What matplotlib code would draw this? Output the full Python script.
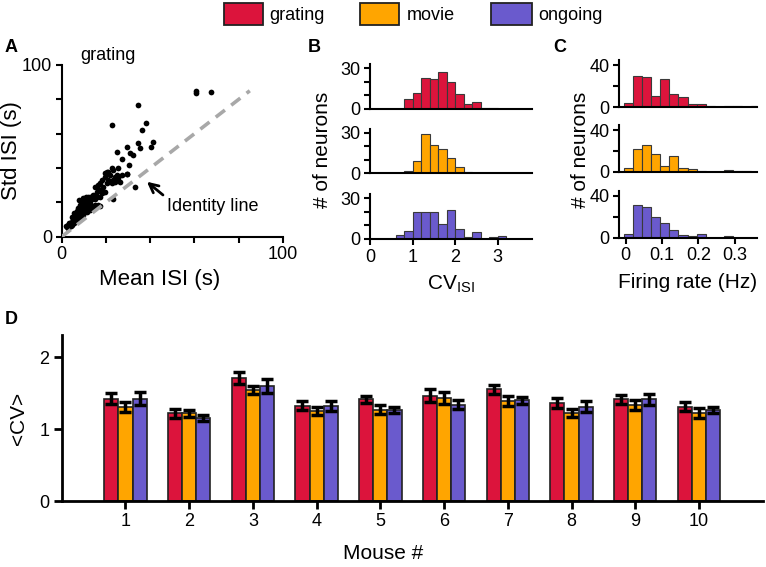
import matplotlib
matplotlib.use("Agg")
import matplotlib.pyplot as plt
from matplotlib.patches import Rectangle
import numpy as np

plt.rcParams['font.family'] = ['Liberation Sans', 'DejaVu Sans']

# ---------------- data ----------------
conditions = ['grating', 'movie', 'ongoing']
colors = ['#DC143C', '#FFA500', '#6A5ACD']

# Panel A: mean vs std ISI (grating)
mean_isi = [3.0, 3.8, 4.5, 5.3, 6.0, 6.8, 5.0, 7.5, 8.3, 9.0, 8.3, 8.0, 9.8, 10.5, 11.3,
            12.0, 12.8, 13.5, 15.0, 16.5, 17.3, 14.3, 15.8, 15.0, 16.5, 17.3, 18.8, 19.5,
            18.0, 19.5, 20.3, 21.1, 22.6, 23.3, 21.8, 24.1, 24.8, 25.6, 23.3, 26.3, 24.1,
            22.6, 27.1, 23.3, 33.1, 29.6, 25.6, 30.5, 27.1, 30.8, 32.0, 24.8, 29.6, 35.6,
            40.2, 34.6, 41.1, 36.1, 37.9, 22.6, 34.6, 60.6, 60.9, 67.4,
            2.3, 2.0, 3.5, 4.1, 5.6, 6.5, 5.6, 6.8, 7.5, 9.0, 9.8, 10.5, 11.3, 9.5, 9.0,
            11.0, 12.0, 12.8, 13.5, 15.0, 16.1, 17.3, 18.0, 17.3, 15.8, 18.8, 20.3, 21.1,
            6.8, 4.5, 14.3, 12.0, 12.8, 11.3, 9.8, 8.3, 7.5, 4.5, 3.0, 19.6, 20.3, 29.4]
std_isi = [6.8, 7.8, 8.7, 9.7, 11.7, 12.6, 10.7, 13.6, 14.6, 16.5, 18.4, 21.4, 22.3, 19.4,
           21.4, 23.3, 19.4, 17.5, 18.4, 18.4, 18.1, 24.3, 26.2, 29.1, 30.1, 31.1, 26.2,
           26.2, 33.0, 35.0, 36.9, 37.9, 39.8, 38.8, 35.9, 35.0, 35.9, 34.0, 33.0, 32.0,
           32.0, 31.1, 35.9, 21.7, 28.7, 36.5, 39.8, 41.7, 45.0, 48.5, 47.6, 49.5, 52.0,
           51.5, 52.0, 54.4, 55.3, 62.1, 66.0, 65.0, 76.7, 85.0, 83.5, 84.0,
           5.8, 6.4, 8.2, 6.4, 8.2, 9.7, 13.6, 15.1, 16.5, 13.6, 15.5, 16.5, 17.5, 18.4,
           20.4, 23.3, 20.4, 23.3, 21.7, 21.7, 23.3, 23.3, 25.2, 27.2, 29.1, 29.1, 31.1,
           33.0, 11.7, 11.7, 17.5, 17.5, 15.5, 14.6, 12.6, 11.7, 9.7, 6.8, 4.9, 36.9,
           37.9, 36.5]
identity_range = [0, 85]

# Panel B: CV_ISI histograms
cv_bin_edges = [0.6, 0.8, 1.0, 1.2, 1.4, 1.6, 1.8, 2.0, 2.2, 2.4, 2.6, 2.8, 3.0, 3.2]
cv_counts_grating = [0, 7, 12, 23, 22, 27, 20, 11, 4, 5, 1, 1, 0]
cv_counts_movie = [0, 2, 9, 29, 21, 18, 11, 5, 1, 0, 0, 0, 0]
cv_counts_ongoing = [3, 6, 20, 20, 20, 11, 21, 7, 1, 5, 0, 1, 2]

# Panel C: firing rate histograms
fr_bin_edges = [-0.005, 0.02, 0.045, 0.07, 0.095, 0.12, 0.145, 0.17, 0.195, 0.22,
                0.245, 0.27, 0.295, 0.32, 0.345, 0.37]
fr_counts_grating = [4, 30, 29, 11, 27, 12, 10, 3, 3, 1, 0, 1, 1, 0, 1]
fr_counts_movie = [4, 22, 26, 17, 6, 15, 4, 3, 1, 0, 0, 2, 1, 1, 0]
fr_counts_ongoing = [3, 31, 29, 20, 14, 7, 2, 1, 3, 0, 0, 1, 0, 0, 0]

# Panel D: mean CV per mouse
mice = [1, 2, 3, 4, 5, 6, 7, 8, 9, 10]
cv_grating = [1.42, 1.22, 1.71, 1.32, 1.41, 1.465, 1.55, 1.36, 1.41, 1.31]
cv_grating_err = [0.077, 0.063, 0.08, 0.063, 0.053, 0.088, 0.063, 0.065, 0.06, 0.063]
cv_movie = [1.30, 1.22, 1.54, 1.25, 1.27, 1.43, 1.39, 1.22, 1.33, 1.22]
cv_movie_err = [0.07, 0.05, 0.053, 0.05, 0.063, 0.08, 0.07, 0.056, 0.07, 0.07]
cv_ongoing = [1.42, 1.15, 1.60, 1.32, 1.27, 1.34, 1.40, 1.31, 1.41, 1.26]
cv_ongoing_err = [0.088, 0.04, 0.1, 0.065, 0.042, 0.056, 0.047, 0.072, 0.07, 0.04]

# ---------------- figure ----------------
W, H = 766, 567
fig = plt.figure(figsize=(W / 100, H / 100), dpi=100)


def box(l, t, r, b):
    return [l / W, 1 - b / H, (r - l) / W, (b - t) / H]


def style(ax, lw=1.5):
    for s in ['top', 'right']:
        ax.spines[s].set_visible(False)
    for s in ['left', 'bottom']:
        ax.spines[s].set_linewidth(lw)
    ax.tick_params(direction='out', width=lw, length=4, labelsize=13, pad=3)


LAB = 15

# ---- Panel A ----
axA = fig.add_axes(box(61.7, 65, 283, 236.7))
style(axA)
axA.scatter(mean_isi, std_isi, s=17, color='black', linewidths=0, zorder=2)
axA.plot(identity_range, identity_range, ls=(0, (3.2, 2.2)), color='#a8a8a8', lw=2.6, zorder=3)
axA.set_xlim(0, 100)
axA.set_ylim(0, 100)
axA.set_xticks([0, 100])
axA.set_yticks([0, 100])
axA.set_xticks([20, 40, 60, 80], minor=True)
axA.set_yticks([20, 40, 60, 80], minor=True)
axA.tick_params(which='minor', direction='out', width=1.5, length=4)
axA.set_xlabel('Mean ISI (s)', fontsize=16, labelpad=4)
axA.xaxis.set_label_coords((160 - 61.7) / (283 - 61.7), -0.19)
axA.set_ylabel('Std ISI (s)', fontsize=16, labelpad=0)
axA.annotate('Identity line', xy=(38.5, 32), xytext=(47.5, 17.5), fontsize=13,
             va='center', ha='left',
             arrowprops=dict(arrowstyle='->', lw=2, color='black', mutation_scale=16,
                             relpos=(0, 1), shrinkA=1, shrinkB=0))
fig.text(80 / W, 1 - 55 / H, 'grating', fontsize=13, va='center', ha='left')


# ---- Panel B ----
def hist_panel(ax, edges, counts, color, xlim, ylim, yt, yminor, xt=None, xtl=None):
    style(ax)
    edges = np.asarray(edges)
    ax.bar(edges[:-1], counts, width=np.diff(edges), align='edge', color=color,
           edgecolor='#3a3a3a', linewidth=0.8)
    ax.set_xlim(*xlim)
    ax.set_ylim(*ylim)
    ax.set_yticks(yt)
    ax.set_yticks(yminor, minor=True)
    ax.tick_params(which='minor', direction='out', width=1.5, length=4)
    if xt is None:
        ax.set_xticks([])
    else:
        ax.set_xticks(xt)
        ax.set_xticklabels(xtl)


b_rows = [(64.2, 109), (128.5, 173.3), (194, 238.8)]
b_counts = [cv_counts_grating, cv_counts_movie, cv_counts_ongoing]
axesB = []
for i, ((t, b), c) in enumerate(zip(b_rows, b_counts)):
    ax = fig.add_axes(box(370, t, 531.7, b))
    last = i == 2
    hist_panel(ax, cv_bin_edges, c, colors[i], (0, 3.8), (0, 33), [0, 30], [10, 20],
               xt=[0, 1, 2, 3] if last else None, xtl=['0', '1', '2', '3'] if last else None)
    axesB.append(ax)
axesB[2].set_xlabel('CV$_{\\mathregular{ISI}}$', fontsize=LAB, labelpad=6)
fig.text(323 / W, 1 - 150 / H, '# of neurons', rotation=90, fontsize=LAB,
         va='center', ha='center')

# ---- Panel C ----
c_rows = [(60, 107), (125, 172), (190.5, 237.5)]
c_counts = [fr_counts_grating, fr_counts_movie, fr_counts_ongoing]
axesC = []
for i, ((t, b), c) in enumerate(zip(c_rows, c_counts)):
    ax = fig.add_axes(box(619.3, t, 756.7, b))
    last = i == 2
    hist_panel(ax, fr_bin_edges, c, colors[i], (-0.0176, 0.36), (0, 45), [0, 40], [20],
               xt=[0, 0.1, 0.2, 0.3] if last else None,
               xtl=['0', '0.1', '0.2', '0.3'] if last else None)
    axesC.append(ax)
axesC[2].set_xlabel('Firing rate (Hz)', fontsize=LAB, labelpad=6)
fig.text(580 / W, 1 - 150 / H, '# of neurons', rotation=90, fontsize=LAB,
         va='center', ha='center')

# ---- Panel D ----
axD = fig.add_axes(box(61.7, 335.4, 762.7, 501))
style(axD, lw=2)
axD.tick_params(length=6, width=2)
x = np.asarray(mice, dtype=float)
bw = 0.222
series = [(cv_grating, cv_grating_err), (cv_movie, cv_movie_err), (cv_ongoing, cv_ongoing_err)]
for j, (vals, errs) in enumerate(series):
    axD.bar(x + (j - 1) * bw, vals, width=bw, color=colors[j], edgecolor='#222222',
            linewidth=1.2, zorder=2)
    axD.errorbar(x + (j - 1) * bw, vals, yerr=errs, fmt='none', ecolor='black',
                 elinewidth=2.5, capsize=4.5, capthick=2.5, zorder=3)
axD.set_xlim(0, 11)
axD.set_ylim(0, 2.3)
axD.set_xticks(mice)
axD.set_yticks([0, 1, 2])
axD.set_xlabel('Mouse #', fontsize=LAB, labelpad=8)
axD.xaxis.set_label_coords((383 - 61.7) / (762.7 - 61.7), -0.26)
axD.set_ylabel('<CV>', fontsize=LAB, labelpad=8)

# ---- Legend ----
leg_boxes = [(224, 263, 269), (360, 399, 407), (490.7, 531.7, 538)]
for (l, r, tx), name, col in zip(leg_boxes, conditions, colors):
    fig.add_artist(Rectangle((l / W, 1 - 25 / H), (r - l) / W, 22 / H,
                             transform=fig.transFigure, facecolor=col,
                             edgecolor='#222222', linewidth=1.3))
    fig.text(tx / W, 1 - 15 / H, name, fontsize=13, va='center', ha='left')

# ---- Panel letters ----
for letter, (px, py) in zip('ABCD', [(5, 47), (308, 48), (553, 48), (5, 320)]):
    fig.text(px / W, 1 - py / H, letter, fontsize=13, weight='bold', va='center', ha='left')

fig.savefig('out.png', dpi=100)
